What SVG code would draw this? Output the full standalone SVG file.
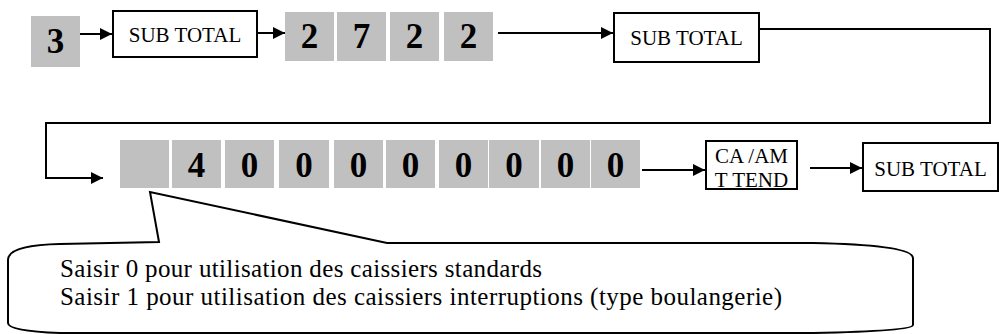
<svg xmlns="http://www.w3.org/2000/svg" width="999" height="334" viewBox="0 0 999 334">
<defs>
<style>
.key{fill:#c0c0c0;}
.dig{font-family:"Liberation Serif","Times New Roman",serif;font-weight:bold;font-size:35px;text-anchor:middle;fill:#000;}
.box{fill:#fff;stroke:#000;stroke-width:2;}
.lbl{font-family:"Liberation Serif","Times New Roman",serif;font-size:21px;text-anchor:middle;fill:#000;}
.con{fill:none;stroke:#000;stroke-width:2;}
.note{font-family:"Liberation Serif","Times New Roman",serif;font-size:25px;fill:#000;}
</style>
<marker id="ah" viewBox="0 0 10 10" refX="10" refY="5" markerWidth="14" markerHeight="12" markerUnits="userSpaceOnUse" orient="auto">
<path d="M0,0 L10,5 L0,10 Z" fill="#000"/>
</marker>
</defs>
<rect width="999" height="334" fill="#fff"/>

<g id="k3"><rect class="key" x="31" y="16" width="49" height="51"/><text class="dig" x="55.5" y="53">3</text></g>
<g id="sub1"><rect class="box" x="113" y="11" width="144" height="46"/><text class="lbl" x="185" y="42">SUB TOTAL</text></g>
<g id="k2a"><rect class="key" x="285" y="12" width="49" height="49"/><text class="dig" x="309.5" y="48">2</text></g>
<g id="k7"><rect class="key" x="337" y="12" width="49" height="49"/><text class="dig" x="361.5" y="48">7</text></g>
<g id="k2b"><rect class="key" x="390" y="12" width="49" height="49"/><text class="dig" x="414.5" y="48">2</text></g>
<g id="k2c"><rect class="key" x="444" y="12" width="49" height="49"/><text class="dig" x="468.5" y="48">2</text></g>
<g id="sub2"><rect class="box" x="614" y="13" width="145" height="49"/><text class="lbl" x="686.5" y="45">SUB TOTAL</text></g>

<g id="kblank"><rect class="key" x="120" y="140" width="49" height="48"/></g>
<g id="k4"><rect class="key" x="172" y="140" width="49" height="48"/><text class="dig" x="196.5" y="177">4</text></g>
<g id="k0a"><rect class="key" x="225" y="140" width="49" height="48"/><text class="dig" x="249.5" y="177">0</text></g>
<g id="k0b"><rect class="key" x="279" y="140" width="50" height="48"/><text class="dig" x="304" y="177">0</text></g>
<g id="k0c"><rect class="key" x="334" y="140" width="49" height="48"/><text class="dig" x="358.5" y="177">0</text></g>
<g id="k0d"><rect class="key" x="386" y="140" width="49" height="48"/><text class="dig" x="410.5" y="177">0</text></g>
<g id="k0e"><rect class="key" x="439" y="140" width="49" height="48"/><text class="dig" x="463.5" y="177">0</text></g>
<g id="k0f"><rect class="key" x="489" y="140" width="50" height="48"/><text class="dig" x="514" y="177">0</text></g>
<g id="k0g"><rect class="key" x="541" y="140" width="49" height="48"/><text class="dig" x="565.5" y="177">0</text></g>
<g id="k0h"><rect class="key" x="591" y="140" width="49" height="48"/><text class="dig" x="615.5" y="177">0</text></g>

<g id="caam"><rect class="box" x="706" y="141" width="91" height="48"/><text class="lbl" x="751.5" y="163">CA /AM</text><text class="lbl" x="751.5" y="187">T TEND</text></g>
<g id="sub3"><rect class="box" x="863" y="143" width="135" height="48"/><text class="lbl" x="930.5" y="176">SUB TOTAL</text></g>

<g id="callout">
<path d="M159,242 L150,192 L387,243 L813,243 Q913,245 913,258 L913,325 Q913,331 813,333 L60,333 Q8,331 8,323 L8,260 Q8,245 60,244 Z" fill="#fff" stroke="#000" stroke-width="2"/>
<text class="note" x="60" y="277" textLength="482" lengthAdjust="spacing">Saisir 0 pour utilisation des caissiers standards</text>
<text class="note" x="60" y="305" textLength="722" lengthAdjust="spacing">Saisir 1 pour utilisation des caissiers interruptions (type boulangerie)</text>
</g>

<g id="connectors">
<line class="con" x1="80" y1="34" x2="112" y2="34" marker-end="url(#ah)"/>
<line class="con" x1="257" y1="33" x2="285" y2="33" marker-end="url(#ah)"/>
<line class="con" x1="498" y1="33" x2="613" y2="33" marker-end="url(#ah)"/>
<polyline class="con" points="759,29 990,29 990,123 46,123 46,178 103,178" marker-end="url(#ah)"/>
<line class="con" x1="642" y1="170" x2="705" y2="170" marker-end="url(#ah)"/>
<line class="con" x1="810" y1="168" x2="862" y2="168" marker-end="url(#ah)"/>
</g>
</svg>
